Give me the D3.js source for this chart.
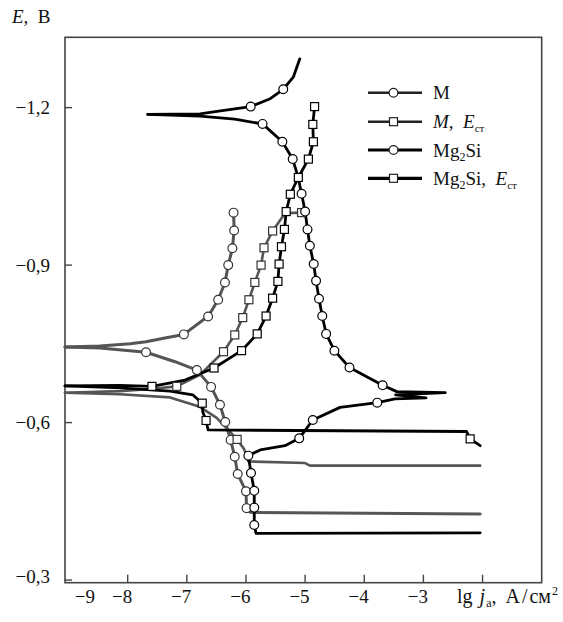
<!DOCTYPE html>
<html lang="ru">
<head>
<meta charset="UTF-8">
<title>Поляризационные кривые</title>
<script src="https://d3js.org/d3.v7.min.js"></script>
<style>
    body { margin: 0; background: #fff; }
    svg text { font-family: "Liberation Serif", "DejaVu Serif", serif; fill: #111; }
</style>
</head>
<body>
<div id="chart"></div>
<script>
// lg j (A/cm2), E (V)
const mUpper = [[-9.06,-0.744],[-8.47,-0.746],[-7.96,-0.750],[-7.69,-0.754],[-7.37,-0.761],[-7.05,-0.768],
    [-6.72,-0.796],[-6.64,-0.802],[-6.47,-0.834],[-6.355,-0.867],[-6.30,-0.900],[-6.23,-0.932],[-6.20,-0.966],[-6.21,-1.000]];
const mLower = [[-9.06,-0.744],[-8.47,-0.742],[-7.69,-0.734],[-7.20,-0.716],[-6.83,-0.700],[-6.59,-0.668],
    [-6.44,-0.634],[-6.35,-0.601],[-6.26,-0.567],[-6.19,-0.535],[-6.14,-0.502],[-6.00,-0.469],[-5.99,-0.437],
    [-5.93,-0.429],[-2.04,-0.426]];
const mMarks = [[-7.05,-0.768],[-6.64,-0.802],[-6.47,-0.834],[-6.355,-0.867],[-6.30,-0.900],[-6.23,-0.932],
    [-6.20,-0.966],[-6.21,-1.000],[-7.69,-0.734],[-6.83,-0.700],[-6.59,-0.668],[-6.44,-0.634],[-6.35,-0.601],
    [-6.26,-0.567],[-6.19,-0.535],[-6.14,-0.502],[-6.00,-0.469],[-5.99,-0.437]];

const mEstUpper = [[-9.06,-0.657],[-8.13,-0.660],[-7.62,-0.664],[-7.17,-0.669],[-6.78,-0.691],[-6.38,-0.735],
    [-6.19,-0.767],[-6.055,-0.800],[-5.95,-0.834],[-5.85,-0.867],[-5.745,-0.900],[-5.695,-0.933],[-5.55,-0.965],
    [-5.34,-0.999],[-5.06,-1.000]];
const mEstLower = [[-9.06,-0.657],[-8.13,-0.654],[-7.285,-0.648],[-6.78,-0.630],[-6.495,-0.609],[-6.30,-0.586],
    [-6.15,-0.568],[-6.03,-0.549],[-5.96,-0.526],[-5.00,-0.523],[-4.92,-0.518],[-2.04,-0.518]];
const mEstMarks = [[-7.17,-0.669],[-6.38,-0.735],[-6.19,-0.767],[-6.055,-0.800],[-5.95,-0.834],[-5.85,-0.867],
    [-5.745,-0.900],[-5.695,-0.933],[-5.55,-0.965],[-5.06,-1.000],[-6.15,-0.568]];

const sUpper = [[-7.66,-1.187],[-6.78,-1.188],[-6.43,-1.194],[-5.92,-1.202],[-5.59,-1.217],[-5.37,-1.235],
    [-5.20,-1.258],[-5.09,-1.293]];
const sLower = [[-7.66,-1.187],[-6.78,-1.184],[-6.19,-1.178],[-5.72,-1.169],[-5.385,-1.135],[-5.21,-1.102],
    [-5.12,-1.068],[-5.06,-1.036],[-5.00,-1.002],[-4.96,-0.968],[-4.92,-0.937],[-4.855,-0.902],[-4.815,-0.870],
    [-4.765,-0.836],[-4.71,-0.803],[-4.645,-0.769],[-4.505,-0.737],[-4.25,-0.705],[-3.69,-0.671],[-3.45,-0.659],
    [-2.63,-0.657],[-3.47,-0.653],[-2.955,-0.647],[-3.48,-0.645],[-3.78,-0.638],[-4.41,-0.629],[-4.87,-0.605],
    [-5.10,-0.570],[-5.34,-0.556],[-5.76,-0.548],[-5.96,-0.537],[-5.915,-0.504],[-5.86,-0.470],[-5.86,-0.438],
    [-5.86,-0.405],[-5.83,-0.389],[-2.04,-0.390]];
const sMarks = [[-5.92,-1.202],[-5.37,-1.235],[-5.72,-1.169],[-5.385,-1.135],[-5.21,-1.102],[-5.06,-1.036],
    [-5.00,-1.002],[-4.96,-0.968],[-4.92,-0.937],[-4.855,-0.902],[-4.815,-0.870],[-4.765,-0.836],[-4.71,-0.803],
    [-4.645,-0.769],[-4.505,-0.737],[-4.25,-0.705],[-3.69,-0.671],[-3.78,-0.638],[-4.87,-0.605],[-5.10,-0.570],
    [-5.96,-0.537],[-5.915,-0.504],[-5.86,-0.470],[-5.86,-0.438],[-5.86,-0.405]];

const eUpper = [[-9.06,-0.670],[-8.13,-0.671],[-7.59,-0.669],[-7.03,-0.681],[-6.54,-0.704],[-6.075,-0.737],
    [-5.81,-0.769],[-5.66,-0.803],[-5.55,-0.837],[-5.46,-0.869],[-5.44,-0.902],[-5.40,-0.935],[-5.35,-0.968],
    [-5.32,-1.002],[-5.25,-1.035],[-5.115,-1.067],[-4.945,-1.102],[-4.86,-1.135],[-4.87,-1.168],[-4.84,-1.202]];
const eLower = [[-9.06,-0.670],[-8.13,-0.666],[-7.285,-0.660],[-6.90,-0.653],[-6.74,-0.637],[-6.73,-0.620],
    [-6.675,-0.604],[-6.64,-0.586],[-2.27,-0.583],[-2.21,-0.569],[-2.04,-0.556]];
const eMarks = [[-7.59,-0.669],[-6.54,-0.704],[-6.075,-0.737],[-5.81,-0.769],[-5.66,-0.803],[-5.55,-0.837],
    [-5.46,-0.869],[-5.44,-0.902],[-5.40,-0.935],[-5.35,-0.968],[-5.32,-1.002],[-5.25,-1.035],[-5.115,-1.067],
    [-4.945,-1.102],[-4.86,-1.135],[-4.87,-1.168],[-4.84,-1.202],[-6.74,-0.637],[-6.675,-0.604],[-2.21,-0.569]];

const xTicks = [-8, -7, -6, -5, -4, -3, -2];
const xLabels = [-9, -8, -7, -6, -5, -4, -3];
const yTicks = [-1.2, -0.9, -0.6, -0.3];

const series = [
    {name: "M", branches: [mUpper, mLower], marks: mMarks, color: "#555", width: 3, shape: "circle"},
    {name: "M, Eст", branches: [mEstUpper, mEstLower], marks: mEstMarks, color: "#555", width: 2.6, shape: "square"},
    {name: "Mg2Si", branches: [sUpper, sLower], marks: sMarks, color: "#000", width: 2.8, shape: "circle"},
    {name: "Mg2Si, Eст", branches: [eUpper, eLower], marks: eMarks, color: "#000", width: 2.8, shape: "square"}
];

const W = 563, H = 622;
const pLeft = 65, pRight = 541.7, pTop = 37.3, pBottom = 582.7;

const svg = d3.select("#chart").append("svg")
    .attr("width", W).attr("height", H);

const x = d3.scaleLinear().domain([-9.06, -1.0]).range([pLeft, pRight]);
const y = d3.scaleLinear().domain([-1.334, -0.295]).range([pTop, pBottom]);

const fmt = v => "\u2212" + Math.abs(v).toFixed(1).replace(".", ",");

// frame
svg.append("rect")
    .attr("x", pLeft).attr("y", pTop)
    .attr("width", pRight - pLeft).attr("height", pBottom - pTop)
    .attr("fill", "none").attr("stroke", "#444").attr("stroke-width", 1.6);

// ticks
svg.selectAll(".xt").data(xTicks).enter().append("line")
    .attr("x1", d => x(d)).attr("x2", d => x(d))
    .attr("y1", pBottom).attr("y2", pBottom - 8)
    .attr("stroke", "#444").attr("stroke-width", 1.4);
svg.selectAll(".yt").data(yTicks).enter().append("line")
    .attr("x1", pLeft).attr("x2", pLeft + 7)
    .attr("y1", d => y(d)).attr("y2", d => y(d))
    .attr("stroke", "#444").attr("stroke-width", 1.4);

svg.selectAll(".xl").data(xLabels).enter().append("text")
    .attr("x", d => d === -9 ? pLeft + 30 : x(d) + 4.5)
    .attr("y", 603)
    .attr("text-anchor", "end")
    .attr("font-size", 19)
    .text(d => "\u2212" + Math.abs(d));

svg.selectAll(".yl").data(yTicks).enter().append("text")
    .attr("x", 50)
    .attr("y", d => Math.min(y(d), 576) + 6.5)
    .attr("text-anchor", "end")
    .attr("font-size", 19)
    .text(fmt);

// axis titles
const yt = svg.append("text").attr("x", 12).attr("y", 23).attr("font-size", 19);
yt.append("tspan").attr("font-style", "italic").text("E");
yt.append("tspan").text(",\u2002B");

const xt = svg.append("text").attr("x", 457).attr("y", 603).attr("font-size", 20);
xt.append("tspan").text("lg");
xt.append("tspan").attr("dx", 7).attr("font-style", "italic").text("j");
xt.append("tspan").attr("font-size", 12).attr("dx", 1).attr("dy", 4).text("a");
xt.append("tspan").attr("dy", -4).text(",");
xt.append("tspan").attr("dx", 9).text("A");
xt.append("tspan").attr("dx", 2).text("/");
xt.append("tspan").attr("dx", 2).text("см");
xt.append("tspan").attr("font-size", 12).attr("dx", 1).attr("dy", -8).text("2");

// curves
const line = d3.line().x(d => x(d[0])).y(d => y(d[1]));

series.forEach(s => {
    svg.append("g").selectAll("path").data(s.branches).enter().append("path")
        .attr("d", line)
        .attr("fill", "none")
        .attr("stroke", s.color)
        .attr("stroke-width", s.width)
        .attr("stroke-linejoin", "round")
        .attr("stroke-linecap", "round");
});

function drawMarker(g, shape, cx, cy, color) {
    if (shape === "circle") {
        g.append("circle").attr("cx", cx).attr("cy", cy).attr("r", 4.4)
            .attr("fill", "#fff").attr("stroke", color).attr("stroke-width", 1.2);
    } else {
        g.append("rect").attr("x", cx - 4).attr("y", cy - 4).attr("width", 8).attr("height", 8)
            .attr("fill", "#fff").attr("stroke", color).attr("stroke-width", 1.2);
    }
}

series.forEach(s => {
    const g = svg.append("g");
    s.marks.forEach(d => drawMarker(g, s.shape, x(d[0]), y(d[1]), s.color === "#000" ? "#000" : "#333"));
});

// legend
const legendY = [92.7, 121.7, 150, 178.3];
const leg = svg.append("g");
series.forEach((s, i) => {
    const ly = legendY[i];
    leg.append("line").attr("x1", 368).attr("x2", 422).attr("y1", ly).attr("y2", ly)
        .attr("stroke", i < 2 ? "#222" : "#000").attr("stroke-width", i < 2 ? 2.6 : 3.2);
    drawMarker(leg, s.shape, 393.5, ly, "#222");
    const t = leg.append("text").attr("x", 433).attr("y", ly + 6.5).attr("font-size", 19);
    if (i === 0) {
        t.text("M");
    } else if (i === 1) {
        t.append("tspan").attr("font-style", "italic").text("M");
        t.append("tspan").text(",\u2002");
        t.append("tspan").attr("font-style", "italic").text("E");
        t.append("tspan").attr("font-size", 11).attr("dy", 4).text("ст");
    } else {
        t.append("tspan").text("Mg");
        t.append("tspan").attr("font-size", 12).attr("dy", 4).text("2");
        t.append("tspan").attr("dy", -4).text("Si");
        if (i === 3) {
            t.append("tspan").text(",\u2002");
            t.append("tspan").attr("font-style", "italic").text("E");
            t.append("tspan").attr("font-size", 11).attr("dy", 4).text("ст");
        }
    }
});
</script>
</body>
</html>
